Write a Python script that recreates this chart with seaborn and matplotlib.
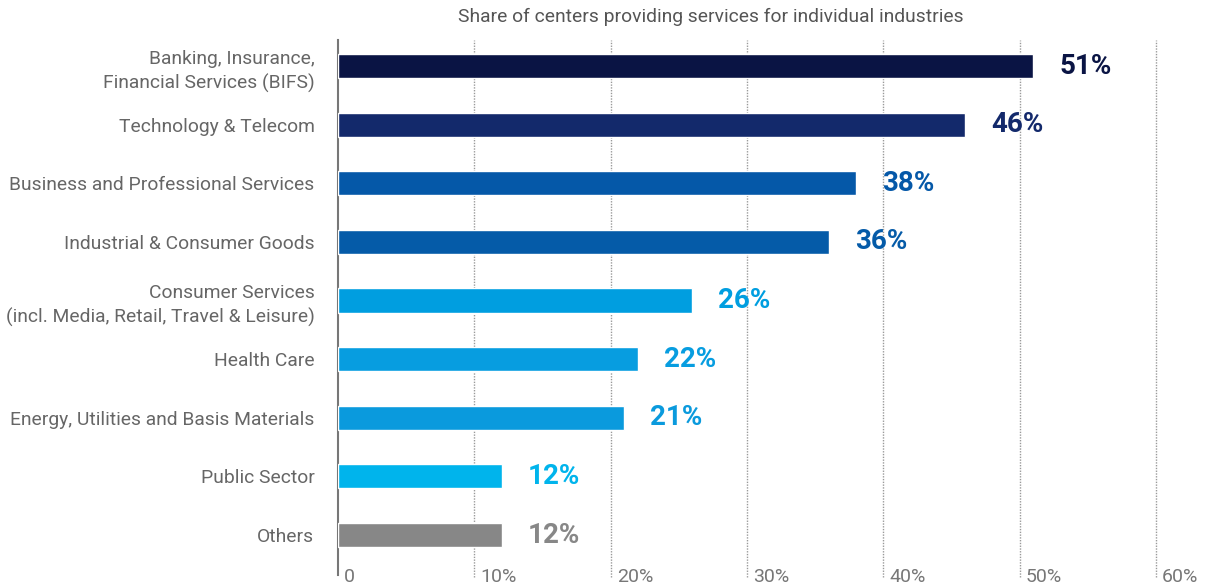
import matplotlib
matplotlib.use("Agg")
import matplotlib.pyplot as plt
import matplotlib.transforms as mtransforms
import seaborn as sns
import pandas as pd

categories = [
    "Banking, Insurance,\nFinancial Services (BIFS)",
    "Technology & Telecom",
    "Business and Professional Services",
    "Industrial & Consumer Goods",
    "Consumer Services\n(incl. Media, Retail, Travel & Leisure)",
    "Health Care",
    "Energy, Utilities and Basis Materials",
    "Public Sector",
    "Others",
]
shares = [51, 46, 38, 36, 26, 22, 21, 12, 12]
bar_colors = [
    "#0A1444", "#13296B", "#0558A8", "#055BA8", "#009EE0",
    "#079DE0", "#0A9ADD", "#00B4EC", "#878787",
]
tick_values = [0, 10, 20, 30, 40, 50, 60]
tick_labels = ["0", "10%", "20%", "30%", "40%", "50%", "60%"]
title = "Share of centers providing services for individual industries"

sns.set_theme(style="white")
plt.rcParams["font.family"] = ["Roboto", "DejaVu Sans"]

df = pd.DataFrame({"category": categories, "share": shares})

fig = plt.figure(figsize=(12.06, 5.87), dpi=100)
ax = fig.add_axes([338 / 1206, 10 / 587, (1156 - 338) / 1206, 537 / 587])

sns.barplot(
    data=df, x="share", y="category", hue="category",
    palette=bar_colors, order=categories, hue_order=categories,
    width=0.41, legend=False, ax=ax, saturation=1, zorder=3,
)

ax.set_xlim(0, 60)
ax.set_ylim(8.716, -0.4435)

# dotted vertical gridlines
for v in tick_values[1:]:
    ax.axvline(v, color="#9a9a9a", linestyle=(0, (1, 1)), linewidth=1.0,
               zorder=1, clip_on=False)

for side in ["top", "right", "bottom"]:
    ax.spines[side].set_visible(False)
ax.spines["left"].set_color("#777777")
ax.spines["left"].set_linewidth(1.5)
ax.spines["left"].set_bounds(8.68, -0.4435)

ax.set_xlabel("")
ax.set_ylabel("")
ax.set_xticks([])
ax.tick_params(axis="y", length=0, pad=17)
ax.set_yticks(range(len(categories)))
ax.set_yticklabels(categories, fontsize=13.9, color="#666666", linespacing=1.4)

# x tick labels placed just right of each gridline, near its lower end
trans = mtransforms.blended_transform_factory(ax.transData, ax.transAxes)
for v, lab in zip(tick_values, tick_labels):
    ax.annotate(lab, xy=(v, 0.0), xycoords=trans, xytext=(6, 0),
                textcoords="offset pixels", ha="left", va="center",
                fontsize=14, color="#777777", annotation_clip=False)

# value labels
for i, (val, col) in enumerate(zip(shares, bar_colors)):
    ax.annotate(f"{val}%", xy=(val, i), xytext=(26, 0),
                textcoords="offset pixels", ha="left", va="center",
                fontsize=20, fontweight="bold", color=col, zorder=4)

fig.text(711 / 1206, 1 - 17 / 587, title, ha="center", va="center",
         fontsize=13.9, color="#555555")

fig.savefig("out.png", dpi=100)
